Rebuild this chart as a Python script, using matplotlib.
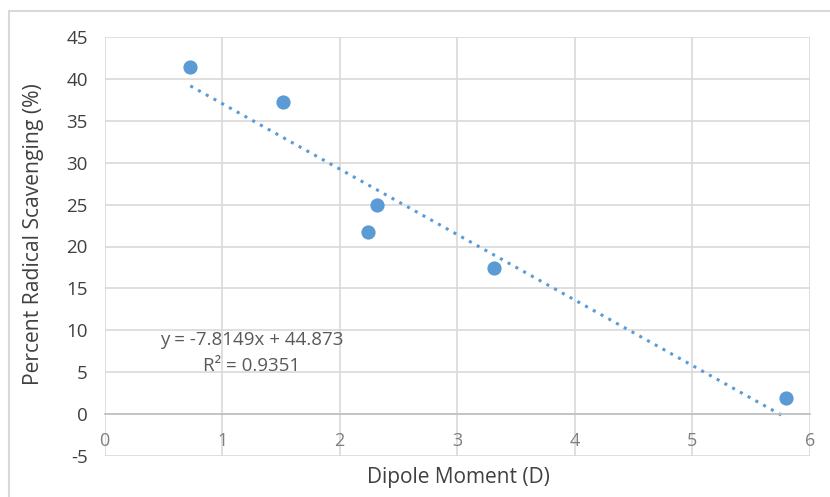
import matplotlib.pyplot as plt
from matplotlib.patches import Rectangle

# data
dipole = [0.73, 1.515, 2.24, 2.32, 3.31, 5.80]
scavenging = [41.45, 37.3, 21.75, 25.0, 17.45, 1.9]
slope = -7.8149
intercept = 44.873
r2 = 0.9351
xticks = [0, 1, 2, 3, 4, 5, 6]
yticks = [-5, 0, 5, 10, 15, 20, 25, 30, 35, 40, 45]

blue = '#5B9BD5'
plt.rcParams['font.family'] = ['Open Sans', 'DejaVu Sans']
plt.rcParams['axes.unicode_minus'] = False

fig = plt.figure(figsize=(8.3, 4.97), dpi=100)
fig.patches.append(Rectangle((9 / 830, -0.2), 1.2, 1.2 - 11 / 497,
                             transform=fig.transFigure, fill=False,
                             edgecolor='#D9D9D9', linewidth=1.5))
ax = fig.add_axes([104.5 / 830, 1 - 456 / 497, (810 - 104.5) / 830, (456 - 37) / 497])

ax.scatter(dipole, scavenging, s=105, color=blue, zorder=3, linewidths=0)
x0, x1 = min(dipole), max(dipole)
ax.plot([x0, x1], [slope * x0 + intercept, slope * x1 + intercept],
        color=blue, linestyle=(0, (1, 1.9)), linewidth=2.2, zorder=2)

ax.set_xlim(0, 6)
ax.set_ylim(-5, 45)
ax.set_xticks(xticks)
ax.set_yticks(yticks)
ax.grid(True, color='#D9D9D9', linewidth=1.2)
ax.set_axisbelow(True)
for s in ['top', 'right', 'left']:
    ax.spines[s].set_visible(False)
ax.spines['bottom'].set_position(('data', 0))
ax.spines['bottom'].set_color('#BFBFBF')
ax.spines['bottom'].set_linewidth(1.2)
ax.tick_params(axis='x', length=0, pad=13, labelsize=13, labelcolor='#7F7F7F')
ax.tick_params(axis='y', length=0, pad=12, labelsize=13.5, labelcolor='#404040')

fig.text(458 / 830, 1 - 478 / 497, 'Dipole Moment (D)', ha='center', va='center',
         fontsize=15, color='#404040')
fig.text(34 / 830, 1 - 234 / 497, 'Percent Radical Scavenging (%)', ha='center',
         va='center', rotation=90, fontsize=15.2, color='#404040')

fig.text(252 / 830, 1 - 340 / 497, f'y = {slope}x + {intercept}', ha='center',
         va='center', fontsize=13.5, color='#595959')
fig.text(252 / 830, 1 - 366 / 497, f'R² = {r2}', ha='center', va='center',
         fontsize=13.5, color='#595959')

fig.savefig('out.png', dpi=100, facecolor='white')
